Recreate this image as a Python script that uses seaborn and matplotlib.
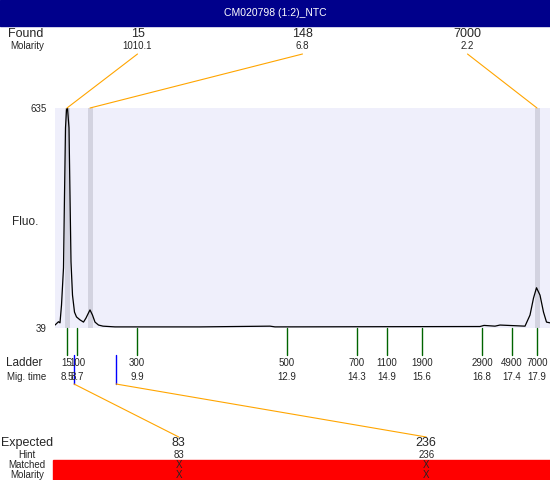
import matplotlib
matplotlib.use("Agg")
import matplotlib.pyplot as plt
import seaborn as sns
import pandas as pd
from matplotlib.patches import Rectangle, ConnectionPatch

# electropherogram trace (migration time in min, fluorescence)
trace_time = [8.26, 8.33, 8.36, 8.39, 8.43, 8.45, 8.47, 8.49, 8.51, 8.54,
              8.56, 8.58, 8.61, 8.65, 8.69, 8.76, 8.83, 8.88, 8.93, 8.96,
              9.01, 9.06, 9.13, 9.22, 9.46, 11.16, 12.56, 12.66, 16.76, 16.84,
              17.06, 17.16, 17.66, 17.76, 17.83, 17.89, 17.96, 18.03, 18.09, 18.16]
trace_fluo = [47, 56, 53, 101, 202, 399, 581, 630, 635, 581,
              399, 218, 128, 82, 69, 61, 55, 66, 80, 88,
              74, 55, 47, 44, 42, 42, 44, 42, 43, 46,
              44, 47, 44, 74, 120, 148, 128, 82, 55, 53]

ladder_sizes = ["15", "100", "300", "500", "700", "1100", "1900", "2900", "4900", "7000"]
ladder_times = [8.5, 8.7, 9.9, 12.9, 14.3, 14.9, 15.6, 16.8, 17.4, 17.9]

found_sizes = ["15", "148", "7000"]
found_molarity = ["1010.1", "6.8", "2.2"]
found_times = [8.5, 8.96, 17.9]

expected_sizes = ["83", "236"]
expected_hint = ["83", "236"]
expected_times = [8.64, 9.48]

title = "CM020798 (1:2)_NTC"

sns.set_style("white")
plt.rcParams["font.family"] = ["Liberation Sans", "DejaVu Sans"]

W, H = 550, 480
def fx(px):
    return px / W
def fy(py):
    return 1 - py / H
def ay(py):  # pixel row -> axes fraction of the main plot
    return (328 - py) / 220

ORANGE = "#FFA500"
GREEN = "#006400"

fig = plt.figure(figsize=(5.5, 4.8), dpi=100)

# title bar
fig.add_artist(Rectangle((0, fy(26)), 1, 26 / H, transform=fig.transFigure,
                         color="#00008B", zorder=0))
fig.text(0.5, fy(13), title, color="white", ha="center", va="center", fontsize=7.5)

ax = fig.add_axes([fx(55), fy(328), fx(550) - fx(55), fy(108) - fy(328)])
ax.set_facecolor("#EFEFFB")
for t in found_times:
    ax.axvspan(t - 0.05, t + 0.05, color="#D3D3E0", lw=0)
df = pd.DataFrame({"time": trace_time, "fluo": trace_fluo})
sns.lineplot(data=df, x="time", y="fluo", color="black", lw=0.9, ax=ax)
ax.set_xlim(8.26, 18.16)
ax.set_ylim(39, 635)
ax.set_yticks([39, 635])
ax.set_yticklabels(["39", "635"], fontsize=7)
ax.set_xticks([])
ax.tick_params(axis="y", length=0, pad=6)
ax.set_xlabel("")
ax.set_ylabel("")
for s in ax.spines.values():
    s.set_visible(False)
fig.text(fx(25), fy(222), "Fluo.", ha="center", va="center", fontsize=8.5)

xt = ax.get_xaxis_transform()

# ladder
for size, t in zip(ladder_sizes, ladder_times):
    ax.plot([t, t], [ay(328), ay(355)], transform=xt, color=GREEN, lw=1, clip_on=False)
    ax.text(t, ay(363), size, transform=xt, ha="center", va="center", fontsize=7)
for size, t in zip(ladder_sizes, ladder_times):
    ax.text(t, ay(377), f"{t:.1f}", transform=xt, ha="center", va="center", fontsize=7)
fig.text(fx(24), fy(363), "Ladder", ha="center", va="center", fontsize=8.5)
fig.text(fx(27), fy(377), "Mig. time", ha="center", va="center", fontsize=7)

# found peaks
fig.text(fx(26), fy(34), "Found", ha="center", va="center", fontsize=9)
fig.text(fx(27), fy(46), "Molarity", ha="center", va="center", fontsize=7)
n = len(found_sizes)
for i, (size, mol, t) in enumerate(zip(found_sizes, found_molarity, found_times)):
    px = 55 + (i + 0.5) * 495 / n
    fig.text(fx(px), fy(34), size, ha="center", va="center", fontsize=9)
    fig.text(fx(px), fy(46), mol, ha="center", va="center", fontsize=7)
    con = ConnectionPatch(xyA=(fx(px), fy(54)), coordsA="figure fraction",
                          xyB=(t, 1.0), coordsB=xt, color=ORANGE, lw=0.8)
    fig.add_artist(con)

# expected peaks
fig.text(fx(27), fy(443), "Expected", ha="center", va="center", fontsize=9)
fig.text(fx(27), fy(455), "Hint", ha="center", va="center", fontsize=7)
fig.add_artist(Rectangle((fx(53), 0), 1 - fx(53), 20 / H, transform=fig.transFigure,
                         color="#FF0000", zorder=0))
fig.text(fx(27), fy(465), "Matched", ha="center", va="center", fontsize=7)
fig.text(fx(27), fy(475), "Molarity", ha="center", va="center", fontsize=7)
n = len(expected_sizes)
for i, (size, hint, t) in enumerate(zip(expected_sizes, expected_hint, expected_times)):
    px = 55 + (i + 0.5) * 495 / n
    ax.plot([t, t], [ay(355), ay(384)], transform=xt, color="blue", lw=1, clip_on=False)
    con = ConnectionPatch(xyA=(t, ay(384)), coordsA=xt,
                          xyB=(fx(px), fy(437)), coordsB="figure fraction",
                          color=ORANGE, lw=0.8)
    fig.add_artist(con)
    fig.text(fx(px), fy(443), size, ha="center", va="center", fontsize=9)
    fig.text(fx(px), fy(455), hint, ha="center", va="center", fontsize=7)
    fig.text(fx(px), fy(465), "X", ha="center", va="center", fontsize=7)
    fig.text(fx(px), fy(475), "X", ha="center", va="center", fontsize=7)

fig.savefig("out.png", dpi=100)
